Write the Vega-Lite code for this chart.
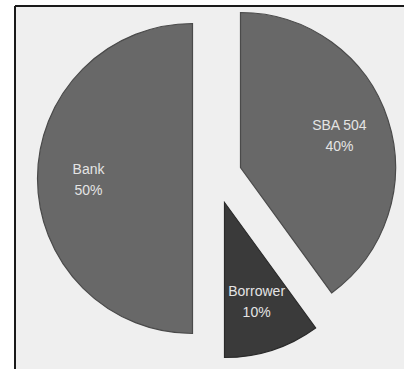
{
  "$schema": "https://vega.github.io/schema/vega-lite/v6.json",
  "width": 389,
  "height": 363,
  "autosize": "none",
  "padding": {"left": 15, "top": 6, "right": 0, "bottom": 0},
  "background": "#ffffff",
  "view": {"fill": "#efefef", "stroke": "#1a1a1a", "strokeWidth": 2, "strokeDash": [389, 752, 363, 0]},
  "data": {
    "values": [
      {"name": "SBA 504", "share": 0.4},
      {"name": "Borrower", "share": 0.1},
      {"name": "Bank", "share": 0.5}
    ]
  },
  "encoding": {
    "theta": {"field": "share", "type": "quantitative", "stack": true, "scale": {"domain": [0, 1]}},
    "order": {"field": "name", "sort": "descending"}
  },
  "layer": [
    {
      "mark": {"type": "arc", "outerRadius": 155, "xOffset": -17, "yOffset": -9, "strokeWidth": 1.2},
      "encoding": {
        "fill": {"condition": {"test": "datum.name === 'Bank'", "value": "#686868"}, "value": "transparent"},
        "stroke": {"condition": {"test": "datum.name === 'Bank'", "value": "#4a4a4a"}, "value": "transparent"}
      }
    },
    {
      "mark": {"type": "arc", "outerRadius": 155, "xOffset": 31, "yOffset": -20, "strokeWidth": 1.2},
      "encoding": {
        "fill": {"condition": {"test": "datum.name === 'SBA 504'", "value": "#686868"}, "value": "transparent"},
        "stroke": {"condition": {"test": "datum.name === 'SBA 504'", "value": "#4a4a4a"}, "value": "transparent"}
      }
    },
    {
      "mark": {"type": "arc", "outerRadius": 155, "xOffset": 15, "yOffset": 15, "strokeWidth": 1.2},
      "encoding": {
        "fill": {"condition": {"test": "datum.name === 'Borrower'", "value": "#3a3a3a"}, "value": "transparent"},
        "stroke": {"condition": {"test": "datum.name === 'Borrower'", "value": "#2a2a2a"}, "value": "transparent"}
      }
    },
    {
      "mark": {"type": "text", "radius": 104, "xOffset": -17, "yOffset": -9, "dy": -9, "font": "Liberation Sans", "fontSize": 14, "fill": "#e4e4e4"},
      "encoding": {
        "text": {"field": "name"},
        "opacity": {"condition": {"test": "datum.name === 'Bank'", "value": 1}, "value": 0}
      }
    },
    {
      "mark": {"type": "text", "radius": 104, "xOffset": -17, "yOffset": -9, "dy": 12, "font": "Liberation Sans", "fontSize": 14, "fill": "#e4e4e4"},
      "encoding": {
        "text": {"field": "share", "type": "quantitative", "format": ".0%"},
        "opacity": {"condition": {"test": "datum.name === 'Bank'", "value": 1}, "value": 0}
      }
    },
    {
      "mark": {"type": "text", "radius": 104, "xOffset": 31, "yOffset": -20, "dy": -9, "font": "Liberation Sans", "fontSize": 14, "fill": "#e4e4e4"},
      "encoding": {
        "text": {"field": "name"},
        "opacity": {"condition": {"test": "datum.name === 'SBA 504'", "value": 1}, "value": 0}
      }
    },
    {
      "mark": {"type": "text", "radius": 104, "xOffset": 31, "yOffset": -20, "dy": 12, "font": "Liberation Sans", "fontSize": 14, "fill": "#e4e4e4"},
      "encoding": {
        "text": {"field": "share", "type": "quantitative", "format": ".0%"},
        "opacity": {"condition": {"test": "datum.name === 'SBA 504'", "value": 1}, "value": 0}
      }
    },
    {
      "mark": {"type": "text", "radius": 104, "xOffset": 15, "yOffset": 15, "dy": -9, "font": "Liberation Sans", "fontSize": 14, "fill": "#e4e4e4"},
      "encoding": {
        "text": {"field": "name"},
        "opacity": {"condition": {"test": "datum.name === 'Borrower'", "value": 1}, "value": 0}
      }
    },
    {
      "mark": {"type": "text", "radius": 104, "xOffset": 15, "yOffset": 15, "dy": 12, "font": "Liberation Sans", "fontSize": 14, "fill": "#e4e4e4"},
      "encoding": {
        "text": {"field": "share", "type": "quantitative", "format": ".0%"},
        "opacity": {"condition": {"test": "datum.name === 'Borrower'", "value": 1}, "value": 0}
      }
    }
  ]
}
